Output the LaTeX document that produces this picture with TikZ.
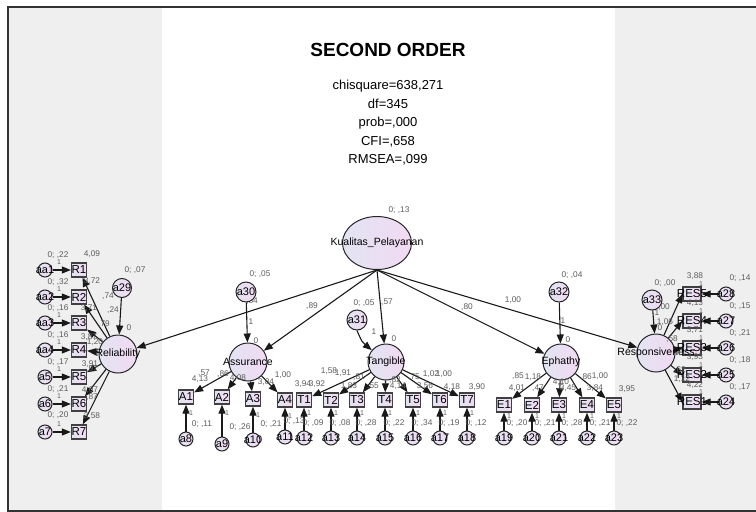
\documentclass[tikz,border=0pt]{standalone}
\usepackage{fontspec}
\setmainfont{Liberation Sans}
\usetikzlibrary{arrows.meta,shapes.geometric}
\definecolor{panel}{RGB}{239,239,239}
\definecolor{numc}{RGB}{92,92,92}
\definecolor{fillA}{RGB}{226,228,242}
\definecolor{fillB}{RGB}{242,218,242}
\begin{document}
\begin{tikzpicture}[x=1pt,y=-1pt,
  lat/.style={circle, draw=black!85, line width=1pt, left color=fillA, right color=fillB, minimum size=#1, inner sep=0pt},
  lat/.default=38pt,
  obs/.style={rectangle, draw=black!75, line width=1.3pt, left color=fillA, right color=fillB, minimum width=#1, minimum height=14pt, inner sep=0pt, font=\fontsize{11.5}{11.5}\selectfont},
  obs/.default=15pt,
  errc/.style={circle, draw=black!85, line width=1pt, left color=fillA, right color=fillB, minimum size=14pt, inner sep=0pt},
  etxt/.style={font=\fontsize{11}{11}\selectfont, inner sep=0pt},
  ltxt/.style={font=\fontsize{10.5}{10.5}\selectfont, inner sep=0pt},
  num/.style={font=\fontsize{8.3}{8.3}\selectfont, text=numc, inner sep=0pt},
  one/.style={font=\fontsize{7}{7}\selectfont, text=numc, inner sep=0pt},
  arr/.style={draw=black!90, line width=1.1pt, -{Triangle[length=9pt,width=7pt]}},
]
\useasboundingbox (0,0) rectangle (756,512);
% page background, side panels and frame
\fill[white] (0,0) rectangle (756,512);
\fill[panel] (9,8) rectangle (162,510);
\fill[panel] (615,8) rectangle (756,510);
\draw[line width=2pt, black!80] (756,7) -- (8,7) -- (8,510.5) -- (756,510.5);

% title and fit indices
\node[font=\fontsize{19}{19}\selectfont\bfseries] (title) at (388,50) {SECOND ORDER};
\node[font=\fontsize{13}{18.5}\selectfont, align=center, anchor=north] (fit) at (388,77)
  {chisquare=638,271\\df=345\\prob=,000\\CFI=,658\\RMSEA=,099};

% path label partly covered by a30
\node[num] (pr) at (252,301) {,84};

% second-order factor
\node[ellipse, draw=black!85, line width=1pt, left color=fillA, right color=fillB, minimum width=69pt, minimum height=53pt, inner sep=0pt] (kp) at (377,243) {};

% first-order factors and their disturbances
\node[lat=38pt] (rel) at (118,354) {};
\node[lat=38pt] (asu) at (248,362) {};
\node[lat=36pt] (tan) at (386,362) {};
\node[lat=36pt] (eph) at (561,362) {};
\node[lat=38pt] (rsp) at (656,353) {};
\node[lat=19pt] (a29) at (122,288) {};
\node[lat=20pt] (a30) at (246,292) {};
\node[lat=20pt] (a31) at (357,320) {};
\node[lat=20pt] (a32) at (559,292) {};
\node[lat=20pt] (a33) at (652,300) {};

% second-order paths
\draw[arr] (kp.south) -- (rel);
\draw[arr] (kp.south) -- (asu);
\draw[arr] (kp.south) -- (tan);
\draw[arr] (kp.south) -- (eph);
\draw[arr] (kp.south) -- (rsp);
\draw[arr] (a29) -- (rel);
\draw[arr] (a30) -- (asu);
\draw[arr] (a31.south) .. controls (362,342) .. (tan);
\draw[arr] (a32) -- (eph);
\draw[arr] (a33) -- (rsp);

% Reliability indicators
\foreach \n/\y/\e in {1/270/aa1, 2/297/aa2, 3/323/aa3, 4/350/aa4, 5/377/a5, 6/404/a6, 7/432/a7} {
  \node[obs] (R\n) at (79,\y) {R\n};
  \node[errc] (eR\n) at (45,\y) {};
  \node[etxt] (teR\n) at (eR\n) {\e};
  \draw[arr] (eR\n) -- (R\n);
  \draw[arr] (rel) -- (R\n);
  \node[one] (oR\n) at (59,\y-8) {1};
}

% Assurance indicators
\foreach \n/\x/\y/\ey/\e in {1/186/397/439/a8, 2/222/397/444/a9, 3/253/399/440/a10, 4/285/400/437/a11} {
  \node[obs] (A\n) at (\x,\y) {A\n};
  \node[errc] (eA\n) at (\x,\ey) {};
  \node[etxt] (teA\n) at (eA\n) {\e};
  \draw[arr] (eA\n) -- (A\n);
  \draw[arr] (asu) -- (A\n);
  \node[one] (oA\n) at (\x+5,\y+16) {1};
}

% Tangible indicators
\foreach \n/\x/\e in {1/304/a12, 2/331/a13, 3/357/a14, 4/385/a15, 5/413/a16, 6/440/a17, 7/467/a18} {
  \node[obs] (T\n) at (\x,400) {T\n};
  \node[errc] (eT\n) at (\x,438) {};
  \node[etxt] (teT\n) at (eT\n) {\e};
  \draw[arr] (eT\n) -- (T\n);
  \draw[arr] (tan) -- (T\n);
  \node[one] (oT\n) at (\x+5,413) {1};
}

% Ephathy indicators
\foreach \n/\x/\e in {1/504/a19, 2/532/a20, 3/559/a21, 4/587/a22, 5/614/a23} {
  \node[obs] (E\n) at (\x,405) {E\n};
  \node[errc] (eE\n) at (\x,438) {};
  \node[etxt] (teE\n) at (eE\n) {\e};
  \draw[arr] (eE\n) -- (E\n);
  \draw[arr] (eph) -- (E\n);
  \node[one] (oE\n) at (\x+5,416) {1};
}

% Responsiveness indicators
\foreach \n/\y/\e in {5/294/a28, 4/321/a27, 3/348/a26, 2/375/a25, 1/402/a24} {
  \node[obs=18pt] (S\n) at (692,\y) {};
  \node[errc] (eS\n) at (726,\y) {};
  \draw[arr] (eS\n) -- (S\n);
  \draw[arr] (rsp) -- (S\n.west);
  \node[ltxt, font=\fontsize{11.5}{11.5}\selectfont] (tS\n) at (S\n) {RES\n};
  \node[etxt] (teS\n) at (eS\n) {\e};
  \node[one] (oS\n) at (701,\y-10) {1};
}

% factor names
\node[ltxt] (tkp) at (kp) {Kualitas\_Pelayanan};
\node[ltxt] (trel) at (rel) {Reliability};
\node[ltxt] (tasu) at (asu) {Assurance};
\node[ltxt] (ttan) at (tan) {Tangible};
\node[ltxt] (teph) at (eph) {Ephathy};
\node[ltxt] (trsp) at (rsp) {Responsiveness};
\node[etxt] (ta29) at (a29) {a29};
\node[etxt] (ta30) at (a30) {a30};
\node[etxt] (ta31) at (a31) {a31};
\node[etxt] (ta32) at (a32) {a32};
\node[etxt] (ta33) at (a33) {a33};

% estimates: Reliability block
\foreach [count=\i] \x/\y/\t in {58/255/{0; ,22}, 92/254/{4,09}, 58/282/{0; ,32}, 92/281/{3,72},
  58/308/{0; ,16}, 89/308/{3,71}, 58/335/{0; ,16}, 89/337/{3,87}, 58/362/{0; ,17}, 90/364/{3,91},
  58/389/{0; ,21}, 90/390/{4,07}, 58/415/{0; ,20}, 92/416/{3,58},
  108/296/{,74}, 113/310/{,24}, 104/324/{,79}, 95/342/{1,20}, 92/369/{,97}, 92/397/{,87},
  135/270/{0; ,07}, 129/328/{0}}
  \node[num] (lr\i) at (\x,\y) {\t};

% estimates: Assurance block
\foreach [count=\i] \x/\y/\t in {260/274/{0; ,05}, 251/322/{1}, 256/341/{0},
  204/373/{,57}, 200/379/{4,13}, 223/374/{,86}, 238/378/{4,08}, 266/382/{3,84}, 283/375/{1,00},
  202/424/{0; ,11}, 240/427/{0; ,26}, 271/424/{0; ,21}, 294/421/{0; ,13}, 312/306/{,89}}
  \node[num] (la\i) at (\x,\y) {\t};

% estimates: Tangible block
\foreach [count=\i] \x/\y/\t in {364/303/{0; ,05}, 387/302/{,57}, 374/332/{1}, 394/339/{0},
  303/384/{3,94}, 329/371/{1,58}, 343/373/{1,91}, 317/384/{3,92}, 349/386/{1,83}, 359/377/{,81},
  373/386/{,55}, 395/380/{,82}, 398/386/{4,14}, 414/377/{,75}, 425/386/{3,56}, 431/374/{1,02},
  444/374/{1,00}, 452/387/{4,18}, 477/387/{3,90}, 467/307/{,80},
  313/423/{0; ,09}, 340/423/{0; ,08}, 366/423/{0; ,28}, 394/423/{0; ,22}, 422/423/{0; ,34},
  449/423/{0; ,19}, 476/423/{0; ,12}}
  \node[num] (lt\i) at (\x,\y) {\t};

% estimates: Ephathy block
\foreach [count=\i] \x/\y/\t in {572/275/{0; ,04}, 513/300/{1,00}, 563/321/{1}, 568/340/{0},
  518/376/{,85}, 517/388/{4,01}, 533/377/{1,18}, 538/388/{,47}, 561/382/{4,10}, 568/388/{3,45},
  586/377/{,86}, 595/388/{3,84}, 600/376/{1,00}, 627/389/{3,95},
  517/423/{0; ,20}, 545/423/{0; ,21}, 572/423/{0; ,28}, 600/423/{0; ,21}, 627/423/{0; ,22}}
  \node[num] (le\i) at (\x,\y) {\t};

% estimates: Responsiveness block
\foreach [count=\i] \x/\y/\t in {665/283/{0; ,00}, 664/307/{,00}, 657/313/{1}, 665/322/{1,06},
  660/328/{0}, 672/339/{,58}, 680/370/{,62}, 682/379/{1,12},
  695/276/{3,88}, 740/278/{0; ,14}, 695/303/{4,13}, 740/306/{0; ,15}, 695/330/{3,71},
  740/333/{0; ,21}, 695/357/{3,93}, 740/360/{0; ,18}, 695/385/{4,22}, 740/387/{0; ,17}}
  \node[num] (ls\i) at (\x,\y) {\t};

% variance of the second-order factor
\node[num] (lk) at (399,210) {0; ,13};
\end{tikzpicture}
\end{document}
